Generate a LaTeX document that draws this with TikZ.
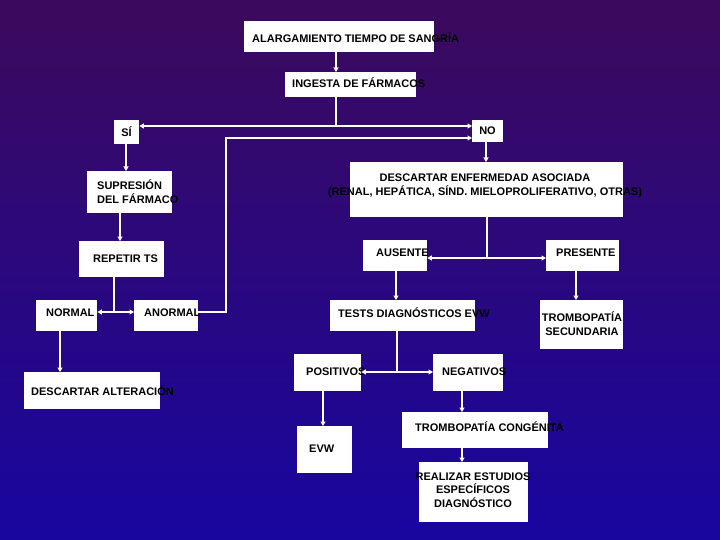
\documentclass[tikz,border=0pt]{standalone}
\usepackage{fontspec}
\setmainfont{Liberation Sans}
\usetikzlibrary{arrows.meta}
\definecolor{bgtop}{RGB}{60,10,92}
\definecolor{bgbot}{RGB}{24,6,160}
\begin{document}
\begin{tikzpicture}[x=1pt,y=-1pt,
 box/.style={fill=white, draw=none, inner sep=0pt, anchor=north west},
 txt/.style={font=\bfseries\fontsize{11}{13.5}\selectfont, text=black, inner sep=0pt, anchor=west},
 ctxt/.style={txt, anchor=center, align=center},
 wire/.style={draw=white, line width=1.5pt},
 arr/.style={wire, -{Triangle[length=4.5pt,width=5pt]}},
 biarr/.style={wire, {Triangle[length=4.5pt,width=5pt]}-{Triangle[length=4.5pt,width=5pt]}}]
\useasboundingbox (0,0) rectangle (720,540);
\shade[top color=bgtop, bottom color=bgbot] (0,0) rectangle (720,540);

% boxes
\node[box, minimum width=190pt, minimum height=31pt] (a) at (244,21) {};
\node[box, minimum width=131pt, minimum height=25pt] (b) at (285,72) {};
\node[box, minimum width=25pt, minimum height=24pt] (si) at (114,120) {};
\node[box, minimum width=31pt, minimum height=22pt] (no) at (472,120) {};
\node[box, minimum width=85pt, minimum height=42pt] (sup) at (87,171) {};
\node[box, minimum width=85pt, minimum height=36pt] (rep) at (79,241) {};
\node[box, minimum width=61pt, minimum height=31pt] (nor) at (36,300) {};
\node[box, minimum width=64pt, minimum height=31pt] (anor) at (134,300) {};
\node[box, minimum width=136pt, minimum height=37pt] (dalt) at (24,372) {};
\node[box, minimum width=273pt, minimum height=55pt] (denf) at (350,162) {};
\node[box, minimum width=64pt, minimum height=31pt] (aus) at (363,240) {};
\node[box, minimum width=73pt, minimum height=31pt] (pres) at (546,240) {};
\node[box, minimum width=145pt, minimum height=31pt] (tests) at (330,300) {};
\node[box, minimum width=83pt, minimum height=49pt] (tsec) at (540,300) {};
\node[box, minimum width=67pt, minimum height=37pt] (pos) at (294,354) {};
\node[box, minimum width=70pt, minimum height=37pt] (neg) at (433,354) {};
\node[box, minimum width=55pt, minimum height=47pt] (evw) at (297,426) {};
\node[box, minimum width=146pt, minimum height=36pt] (tcong) at (402,412) {};
\node[box, minimum width=109pt, minimum height=60pt] (real) at (419,462) {};

% texts
\node[txt] (at) at (252,38) {ALARGAMIENTO TIEMPO DE SANGRÍA};
\node[txt] (bt) at (292,83) {INGESTA DE FÁRMACOS};
\node[ctxt] (sit) at (126.5,132) {SÍ};
\node[ctxt] (not) at (487.5,131) {NO};
\node[txt, align=left] (supt) at (97,191.5) {SUPRESIÓN\\DEL FÁRMACO};
\node[txt] (rept) at (93,259) {REPETIR TS};
\node[txt] (nort) at (46,313) {NORMAL};
\node[txt] (anort) at (144,313) {ANORMAL};
\node[txt] (dalts) at (31,391) {DESCARTAR ALTERACIÓN};
\node[ctxt] (denft) at (485,186) {DESCARTAR ENFERMEDAD ASOCIADA\\(RENAL, HEPÁTICA, SÍND. MIELOPROLIFERATIVO, OTRAS)};
\node[txt] (aust) at (376,253) {AUSENTE};
\node[txt] (prest) at (556,253) {PRESENTE};
\node[txt] (testst) at (338,313) {TESTS DIAGNÓSTICOS EVW};
\node[ctxt] (tsect) at (582,323.5) {TROMBOPATÍA\\SECUNDARIA};
\node[txt] (post) at (306,372) {POSITIVOS};
\node[txt] (negt) at (442,372) {NEGATIVOS};
\node[txt] (evwt) at (309,449) {EVW};
\node[txt] (tcongt) at (415,427) {TROMBOPATÍA CONGÉNITA};
\node[ctxt] (realt) at (473,490) {REALIZAR ESTUDIOS\\ESPECÍFICOS\\DIAGNÓSTICO};

% helper coordinates
\coordinate (c336) at (336,0);
\coordinate (c126) at (126,0);
\coordinate (c120) at (120,0);
\coordinate (c60) at (60,0);
\coordinate (c486) at (486,0);
\coordinate (c396) at (396,0);
\coordinate (c576) at (576,0);
\coordinate (c323) at (323,0);
\coordinate (c462) at (462,0);
\coordinate (j1) at (336,126);
\coordinate (r2) at (226,138);
\coordinate (jn) at (114,312);
\coordinate (j2) at (487,258);
\coordinate (j3) at (397,372);

% connectors
\draw[arr] (a.south -| c336) -- (b.north -| c336);
\draw[wire] (b.south -| c336) -- (j1);
\draw[biarr] (si.east |- j1) -- (no.west |- j1);
\draw[arr] (anor.east |- jn) -- (r2 |- jn) -- (r2) -- (no.west |- r2);
\draw[arr] (si.south -| c126) -- (sup.north -| c126);
\draw[arr] (sup.south -| c120) -- (rep.north -| c120);
\draw[wire] (rep.south -| jn) -- (jn);
\draw[biarr] (nor.east |- jn) -- (anor.west |- jn);
\draw[arr] (nor.south -| c60) -- (dalt.north -| c60);
\draw[arr] (no.south -| c486) -- (denf.north -| c486);
\draw[wire] (denf.south -| j2) -- (j2);
\draw[biarr] (aus.east |- j2) -- (pres.west |- j2);
\draw[arr] (aus.south -| c396) -- (tests.north -| c396);
\draw[arr] (pres.south -| c576) -- (tsec.north -| c576);
\draw[wire] (tests.south -| j3) -- (j3);
\draw[biarr] (pos.east |- j3) -- (neg.west |- j3);
\draw[arr] (pos.south -| c323) -- (evw.north -| c323);
\draw[arr] (neg.south -| c462) -- (tcong.north -| c462);
\draw[arr] (tcong.south -| c462) -- (real.north -| c462);
\end{tikzpicture}
\end{document}
